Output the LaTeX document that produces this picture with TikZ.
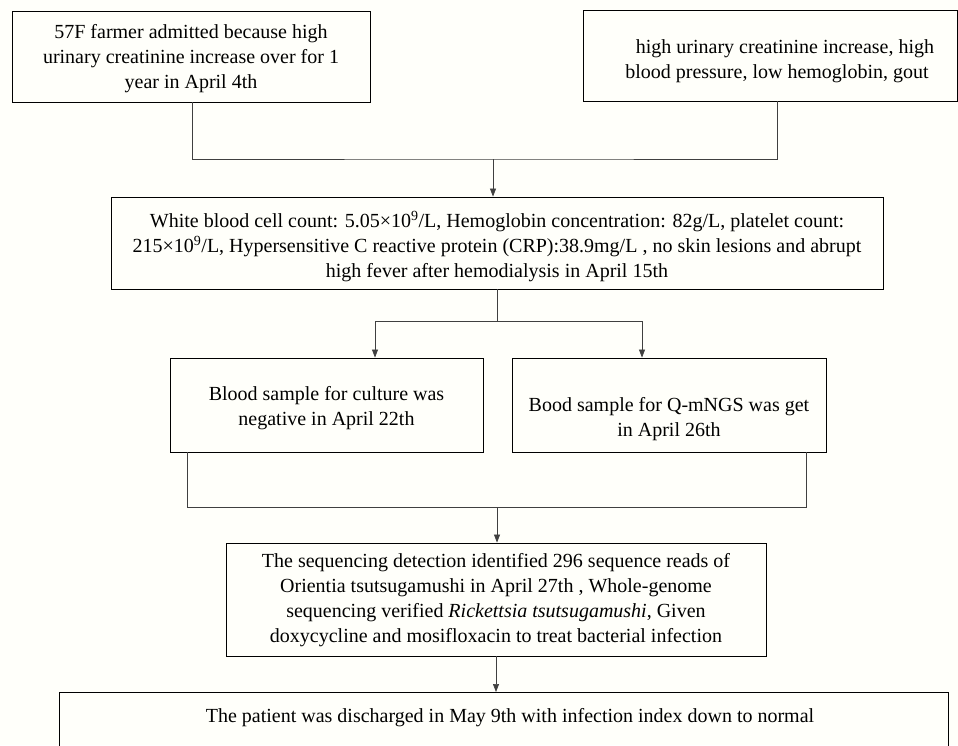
\documentclass[tikz,border=0pt]{standalone}
\usepackage{fontspec}
\setmainfont{Liberation Serif}
\usetikzlibrary{arrows.meta}
\begin{document}
\begin{tikzpicture}[x=1pt,y=-1pt,
  box/.style={draw=black,line width=0.9pt,inner sep=0pt},
  txt/.style={align=center,inner sep=0pt,font=\fontsize{20}{25}\selectfont},
  conn/.style={draw=black!75,line width=0.7pt},
  arr/.style={conn,-{Triangle[length=8pt,width=6pt]}}]
\fill[white!98!yellow] (0,0) rectangle (958,745);
\clip (0,0) rectangle (958,745);
\useasboundingbox (0,0) rectangle (958,745);

\node[box,minimum width=358,minimum height=91] (b1) at (191,56.5) {};
\node[txt] (t1) at (191,58.5)
  {57F farmer admitted because high\\urinary creatinine increase over for 1\\year in April 4th};
\node[box,minimum width=374,minimum height=91] (b2) at (770,55.5) {};
\node[txt] (t2) at (777,61)
  {\hspace*{16pt}high urinary creatinine increase, high\\blood pressure, low hemoglobin, gout};
\node[box,minimum width=772,minimum height=92] (b3) at (497,243) {};
\node[txt] (t3) at (497,246.5)
  {White blood cell count: 5.05×10\textsuperscript{9}/L, Hemoglobin concentration: 82g/L, platelet count:\\
   215×10\textsuperscript{9}/L, Hypersensitive C reactive protein (CRP):38.9mg/L , no skin lesions and abrupt\\
   high fever after hemodialysis in April 15th};
\node[box,minimum width=313,minimum height=94] (b4) at (326.5,405) {};
\node[txt] (t4) at (326.5,408.5)
  {Blood sample for culture was\\negative in April 22th};
\node[box,minimum width=314,minimum height=94] (b5) at (669,405) {};
\node[txt] (t5) at (669,419)
  {Bood sample for Q-mNGS was get\\in April 26th};
\node[box,minimum width=540,minimum height=113] (b6) at (496,599.5) {};
\node[txt] (t6) at (496,600.5)
  {The sequencing detection identified 296 sequence reads of\\
   Orientia tsutsugamushi in April 27th , Whole-genome\\
   sequencing verified \textit{Rickettsia tsutsugamushi}, Given\\
   doxycycline and mosifloxacin to treat bacterial infection};
\node[box,minimum width=889,minimum height=100,anchor=north] (b7) at (503.5,692) {};
\node[txt] (t7) at (510,718)
  {The patient was discharged in May 9th with infection index down to normal};

% connectors
\coordinate (j1) at (493,159);
\draw[conn] ([xshift=1]b1.south) |- (j1) -| ([xshift=7]b2.south);
\draw[arr] (j1) -- (j1 |- b3.north);

\coordinate (a4) at (375,321);
\coordinate (a5) at (642,321);
\draw[conn] (b3.south) -- (b3.south |- a4);
\draw[conn] (a4) -- (a5);
\draw[arr] (a4) -- (a4 |- b4.north);
\draw[arr] (a5) -- (a5 |- b5.north);

\coordinate (j3) at (497,507);
\draw[conn] ([xshift=-139.5]b4.south) |- (j3) -| ([xshift=137]b5.south);
\draw[arr] (j3) -- (j3 |- b6.north);

\draw[arr] (b6.south) -- (b6.south |- b7.north);
\end{tikzpicture}
\end{document}
